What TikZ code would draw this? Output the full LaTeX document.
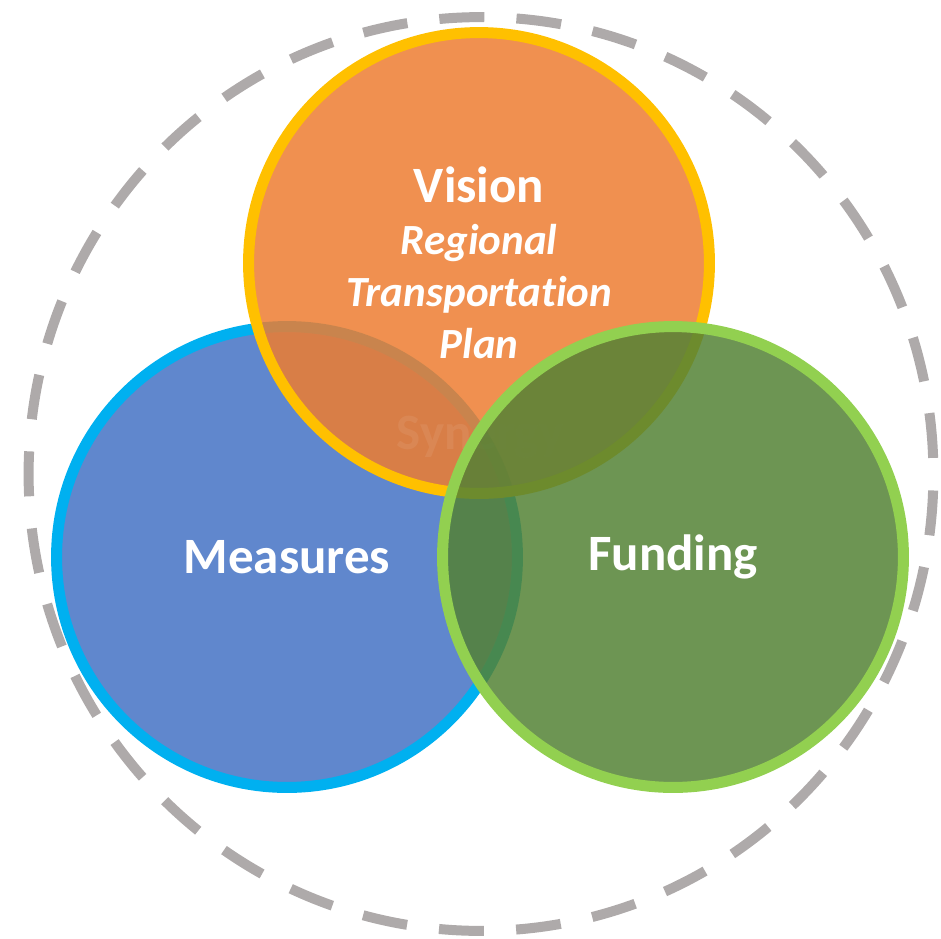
\documentclass[tikz,border=0pt]{standalone}
\usepackage{fontspec}
\setmainfont{Carlito}[Ligatures=NoCommon]
\usetikzlibrary{positioning}
\definecolor{visionfill}{RGB}{237,125,49}
\definecolor{visionline}{RGB}{255,192,0}
\definecolor{measuresfill}{RGB}{68,114,196}
\definecolor{measuresline}{RGB}{0,176,240}
\definecolor{fundingfill}{RGB}{84,130,53}
\definecolor{fundingline}{RGB}{146,208,80}
\definecolor{ringgrey}{RGB}{174,170,170}

\begin{document}
\begin{tikzpicture}[x=0.02cm, y=-0.02cm,
    venn/.style={circle, minimum size=9.22cm, inner sep=0pt, line width=0.22cm,
        fill opacity=0.85, text opacity=1, text=white, align=center},
    bigtext/.style={font=\fontsize{29}{34}\selectfont\bfseries}]
    \useasboundingbox (0, 0) rectangle (941, 938);
    % outer ring
    \draw[color=ringgrey, line width=0.2cm, dash pattern=on 0.9cm off 0.6445cm,
        dash phase=1.222cm] (481, 474) ellipse [x radius=9.05cm, y radius=9.14cm];
    % circles
    \node[venn, bigtext, draw=measuresline, fill=measuresfill] (measures) at (287, 557) {Measures};
    \node[venn, draw=visionline, fill=visionfill,
        font=\fontsize{24.5}{29.6}\selectfont\bfseries\itshape] (vision) at (479, 263)
        {{\fontsize{29}{29.6}\selectfont\upshape Vision}\\Regional\\Transportation\\Plan};
    \node[bigtext, text=white, text opacity=0.07] (synergy) at (480, 437) {Synergy};
    \node[venn, bigtext, draw=fundingline, fill=fundingfill] (funding) at (673, 557) {Funding};
\end{tikzpicture}
\end{document}
